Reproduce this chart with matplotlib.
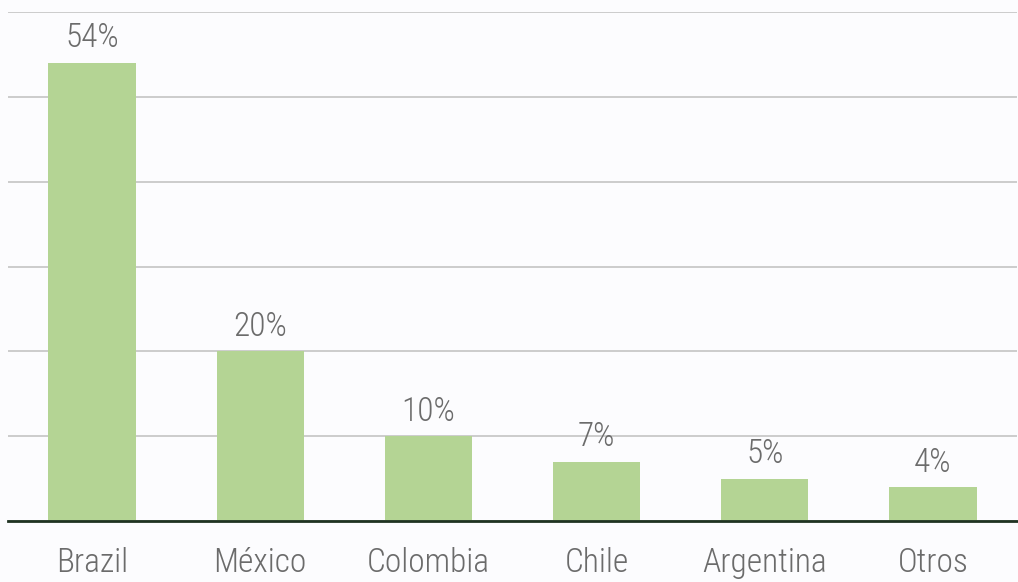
import matplotlib
matplotlib.use("Agg")
import matplotlib.pyplot as plt
from matplotlib import font_manager

countries = ["Brazil", "México", "Colombia", "Chile", "Argentina", "Otros"]
shares = [54, 20, 10, 7, 5, 4]
y_ticks = [0, 10, 20, 30, 40, 50, 60]

names = {f.name for f in font_manager.fontManager.ttflist}
family = [n for n in ["Roboto Condensed", "Liberation Sans Narrow", "Open Sans Condensed", "DejaVu Sans Condensed", "DejaVu Sans"] if n in names]
plt.rcParams["font.family"] = family

bg = "#fcfcfe"
text_color = "#6b6b6b"
fig = plt.figure(figsize=(10.18, 5.82), dpi=100, facecolor=bg)
ax = fig.add_axes([8 / 1018, 61 / 582, 1009 / 1018, 509 / 582], facecolor=bg)

x = range(len(countries))
ax.bar(x, shares, width=0.52, color="#b4d494", zorder=2)
for xi, v in zip(x, shares):
    ax.text(xi, v + 1.0, f"{v}%", ha="center", va="bottom", fontsize=24,
            color=text_color, fontweight="light")

ax.set_xlim(-0.5, len(countries) - 0.5)
ax.set_ylim(0, 60)
ax.set_yticks(y_ticks)
ax.yaxis.grid(True, color="#c4c4c4", linewidth=1.2, zorder=0)
ax.set_axisbelow(True)
ax.tick_params(axis="y", left=False, labelleft=False)
ax.tick_params(axis="x", bottom=False, pad=15)
ax.set_xticks(list(x))
ax.set_xticklabels(countries, fontsize=24, color=text_color, fontweight="light")
for s in ["top", "left", "right"]:
    ax.spines[s].set_visible(False)
ax.spines["bottom"].set_color("#1f3322")
ax.spines["bottom"].set_linewidth(2)
ax.spines["bottom"].set_zorder(3)

fig.savefig("out.png", dpi=100, facecolor=bg)
